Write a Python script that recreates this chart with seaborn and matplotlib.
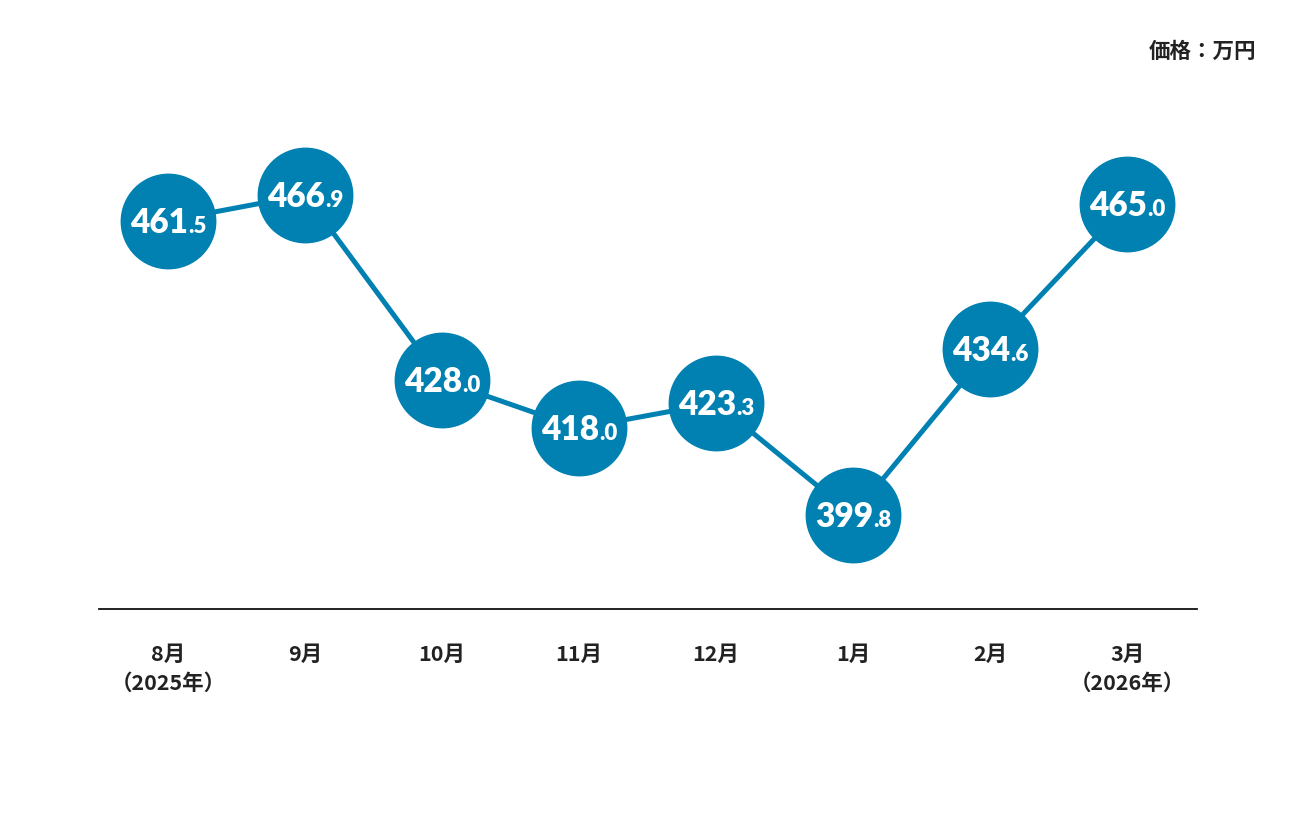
import matplotlib
matplotlib.use("Agg")
import matplotlib.pyplot as plt
import matplotlib.transforms as mtransforms
import seaborn as sns
import pandas as pd

months = ["8月\n（2025年）", "9月", "10月", "11月", "12月", "1月", "2月", "3月\n（2026年）"]
prices = [461.5, 466.9, 428.0, 418.0, 423.3, 399.8, 434.6, 465.0]
unit_label = "価格：万円"

COLOR = "#0081B2"

sns.set_theme(style="white")
plt.rcParams["font.family"] = ["Noto Sans CJK JP", "DejaVu Sans"]

W, H, DPI = 1296, 816, 100
fig = plt.figure(figsize=(W / DPI, H / DPI), dpi=DPI)
# axes: x from 99 to 1197 px, y from 609 (bottom) to 100 px (top)
ax = fig.add_axes([99 / W, (H - 609) / H, (1197 - 99) / W, (609 - 100) / H])

df = pd.DataFrame({"x": range(len(prices)), "price": prices})
sns.lineplot(data=df, x="x", y="price", ax=ax, color=COLOR, linewidth=3.6,
             marker="o", markersize=69, markeredgewidth=0, markerfacecolor=COLOR,
             zorder=2)

ax.set_xlim(-0.504, 7.51)
ax.set_ylim(380.1, 486.8)
ax.set_xlabel("")
ax.set_ylabel("")
ax.set_yticks([])
ax.set_xticks(range(len(months)))
ax.set_xticklabels(months, fontsize=15.5, fontweight="bold", color="#222222",
                   linespacing=1.45)
ax.tick_params(axis="x", length=0, pad=25)
for s in ["top", "right", "left"]:
    ax.spines[s].set_visible(False)
ax.spines["bottom"].set_color("#111111")
ax.spines["bottom"].set_linewidth(1.3)

fig.text(1256 / W, 1 - 51 / H, unit_label, ha="right", va="center",
         fontsize=15.5, fontweight="bold", color="#222222")

# value labels: large integer part + small decimal part, combined centered
fig.canvas.draw()
renderer = fig.canvas.get_renderer()
val_font = ["Lato", "DejaVu Sans"]
for i, v in enumerate(prices):
    s = f"{v:.1f}"
    ip, dp = s.split(".")
    t1 = ax.text(i, v, ip, fontsize=24, fontweight="heavy", color="white",
                 family=val_font, ha="left", va="baseline", zorder=5)
    t2 = ax.text(i, v, "." + dp, fontsize=16, fontweight="heavy", color="white",
                 family=val_font, ha="left", va="baseline", zorder=5)
    w1 = t1.get_window_extent(renderer).width
    w2 = t2.get_window_extent(renderer).width
    total = w1 + w2
    x0 = -total / 2
    t1.set_transform(mtransforms.offset_copy(ax.transData, fig=fig, x=x0 * 72 / DPI,
                                             y=-12 * 72 / DPI, units="points"))
    t2.set_transform(mtransforms.offset_copy(ax.transData, fig=fig, x=(x0 + w1) * 72 / DPI,
                                             y=-12 * 72 / DPI, units="points"))

fig.savefig("out.png", dpi=DPI, facecolor="white")
